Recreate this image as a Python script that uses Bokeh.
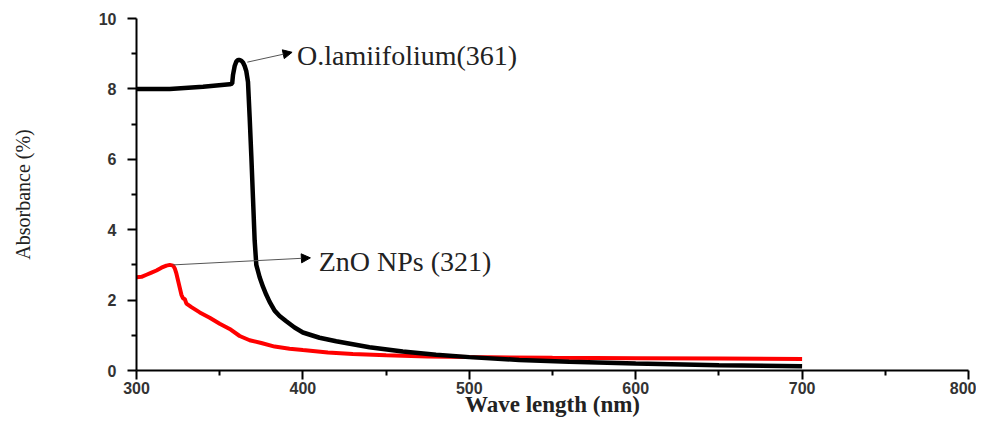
from bokeh.plotting import figure
from bokeh.models import Range1d, Arrow, NormalHead, Label, FixedTicker
from bokeh.embed import file_html
from bokeh.resources import INLINE

# --- data ---
wl_black = [300, 320, 340, 356, 357.5, 358, 359, 360, 361, 362, 363, 364, 365, 366, 367, 368, 369, 370, 371,
            372, 374, 376, 378, 380, 383, 386, 390, 395, 400, 410, 420, 440, 460, 480, 500, 530, 560, 600, 650, 700]
abs_black = [8.00, 8.00, 8.06, 8.13, 8.15, 8.40, 8.65, 8.78, 8.82, 8.82, 8.80, 8.75, 8.65, 8.50, 8.20, 7.20, 6.10,
             4.90, 3.70, 3.00, 2.65, 2.38, 2.15, 1.95, 1.70, 1.55, 1.40, 1.22, 1.08, 0.93, 0.83, 0.66, 0.54, 0.45,
             0.38, 0.30, 0.25, 0.20, 0.15, 0.12]

wl_red = [300, 303, 306, 309, 312, 315, 318, 320, 322, 323, 324, 325, 326, 327, 328, 329, 330, 333, 338, 344, 350,
          356, 362, 368, 375, 383, 392, 400, 415, 430, 450, 475, 500, 550, 600, 650, 700]
abs_red = [2.65, 2.66, 2.72, 2.78, 2.84, 2.92, 2.98, 3.00, 2.98, 2.90, 2.75, 2.55, 2.35, 2.15, 2.05, 2.03, 1.90,
           1.80, 1.65, 1.50, 1.33, 1.18, 0.98, 0.86, 0.78, 0.68, 0.62, 0.58, 0.51, 0.47, 0.43, 0.40, 0.38, 0.36,
           0.35, 0.34, 0.33]

x_ticks = [300, 400, 500, 600, 700, 800]
y_ticks = [0, 2, 4, 6, 8, 10]

x_title = "Wave length (nm)"
y_title = "Absorbance (%)"
label_black = "O.lamiifolium(361)"
label_red = "ZnO NPs (321)"
arrow_black = (366.6, 8.76, 393.5, 9.04)
arrow_red = (322.0, 3.0, 404.5, 3.2)
text_black_pos = (396.5, 8.95)
text_red_pos = (409.5, 3.1)

p = figure(width=976, height=419, output_backend="svg", toolbar_location=None,
           x_range=Range1d(300, 800), y_range=Range1d(0, 10),
           min_border_left=136, min_border_right=8, min_border_top=18, min_border_bottom=40)
p.outline_line_color = None
p.xgrid.visible = False
p.ygrid.visible = False
p.background_fill_color = "white"
p.border_fill_color = "white"

p.line(wl_red, abs_red, line_color="#ff0000", line_width=4)
p.line(wl_black, abs_black, line_color="black", line_width=4.5)

for ax, ticks in ((p.xaxis[0], x_ticks), (p.yaxis[0], y_ticks)):
    step = ticks[1] - ticks[0]
    ax.ticker = FixedTicker(ticks=ticks,
                            minor_ticks=[t + step / 2 for t in ticks[:-1]])
    ax.axis_line_width = 2
    ax.axis_line_color = "black"
    ax.major_tick_line_width = 2
    ax.minor_tick_line_width = 2
    ax.major_tick_in = 0
    ax.minor_tick_in = 0
    ax.major_tick_out = 9
    ax.minor_tick_out = 5
    ax.major_tick_line_color = "black"
    ax.minor_tick_line_color = "black"
    ax.major_label_text_font = "Liberation Sans"
    ax.major_label_text_font_style = "bold"
    ax.major_label_text_font_size = "16px"
    ax.major_label_text_color = "#333333"
    ax.axis_label_text_font = "Liberation Serif"
    ax.axis_label_text_font_style = "normal"
    ax.axis_label_text_color = "#222222"

p.xaxis.axis_label = x_title
p.xaxis.axis_label_text_font_size = "23px"
p.xaxis.axis_label_text_font_style = "bold"
p.xaxis.major_label_standoff = 2
p.xaxis.axis_label_standoff = -5

p.yaxis.axis_label = y_title
p.yaxis.axis_label_text_font_size = "20px"
p.yaxis.major_label_standoff = 11
p.yaxis.axis_label_standoff = 62

for (x0, y0, x1, y1) in (arrow_black, arrow_red):
    p.add_layout(Arrow(x_start=x0, y_start=y0, x_end=x1, y_end=y1,
                       line_color="#555555", line_width=1,
                       end=NormalHead(size=9, fill_color="black", line_color="black")))

for txt, (tx, ty) in ((label_black, text_black_pos), (label_red, text_red_pos)):
    p.add_layout(Label(x=tx, y=ty, text=txt, text_font="Liberation Serif",
                       text_font_size="28px", text_color="#222222",
                       text_baseline="middle", text_align="left"))

open("out.html", "w").write(file_html(p, INLINE))
